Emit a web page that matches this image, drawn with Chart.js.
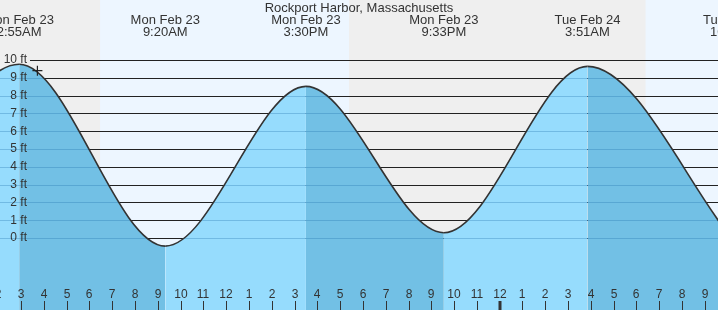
<!DOCTYPE html>
<html>
<head>
<meta charset="utf-8">
<title>Rockport Harbor tides</title>
<script src="https://cdn.jsdelivr.net/npm/chart.js@4.4.0/dist/chart.umd.min.js"></script>
<style>
  html, body { margin: 0; padding: 0; background: #fff; }
  canvas { display: block; }
</style>
</head>
<body>
<canvas id="tideChart" width="718" height="310"></canvas>
<script>
// times are hours counted from Mon Feb 23 00:00
var tideHours = [-3.3, 2.92, 9.33, 15.5, 21.55, 27.85, 34.37];
var tideFeet = [-0.3, 9.76, -0.45, 8.52, 0.3, 9.64, -0.35];
var tideDays = ['Sun Feb 22', 'Mon Feb 23', 'Mon Feb 23', 'Mon Feb 23', 'Mon Feb 23', 'Tue Feb 24', 'Tue Feb 24'];
var tideTimes = ['8:42PM', '2:55AM', '9:20AM', '3:30PM', '9:33PM', '3:51AM', '10:22AM'];

// daylight (sunrise -> sunset)
var dayStart = [6.47, 30.4];
var dayEnd = [17.39, 41.4];

var tickHours = [2, 3, 4, 5, 6, 7, 8, 9, 10, 11, 12, 13, 14, 15, 16, 17, 18, 19, 20, 21, 22, 23, 24, 25, 26, 27, 28, 29, 30, 31, 32, 33];
var tickLabels = ['2', '3', '4', '5', '6', '7', '8', '9', '10', '11', '12', '1', '2', '3', '4', '5', '6', '7', '8', '9', '10', '11', '12', '1', '2', '3', '4', '5', '6', '7', '8', '9'];
var midnight = 24;

var gridFeet = [0, 1, 2, 3, 4, 5, 6, 7, 8, 9, 10];
var gridLabels = ['0 ft', '1 ft', '2 ft', '3 ft', '4 ft', '5 ft', '6 ft', '7 ft', '8 ft', '9 ft', '10 ft'];

var nowPoint = [{x: 3.72, y: 9.4}];

var title = 'Rockport Harbor, Massachusetts';

var nightColor = '#efefef';
var dayColor = '#edf6ff';
var risingColor = 'rgb(150, 220, 253)';
var fallingColor = 'rgb(114, 192, 229)';
var textColor = '#333';
var font = "'Liberation Sans', Arial, sans-serif";

var tidePlugin = {
    id: 'tide',
    beforeDraw: function (chart) {
        var ctx = chart.ctx, x = chart.scales.x, a = chart.chartArea;
        ctx.save();
        ctx.fillStyle = nightColor;
        ctx.fillRect(a.left, a.top, a.width, a.height);
        ctx.fillStyle = dayColor;
        for (var i = 0; i < dayStart.length; i++) {
            var x0 = x.getPixelForValue(dayStart[i]);
            var x1 = x.getPixelForValue(dayEnd[i]);
            ctx.fillRect(x0, a.top, x1 - x0, a.height);
        }
        ctx.restore();
    },
    beforeDatasetsDraw: function (chart) {
        // black lines above the water
        var ctx = chart.ctx, y = chart.scales.y, a = chart.chartArea;
        ctx.save();
        ctx.strokeStyle = '#222';
        ctx.lineWidth = 1;
        ctx.beginPath();
        gridFeet.forEach(function (f) {
            var py = Math.round(y.getPixelForValue(f)) + 0.5;
            ctx.moveTo(a.left + 30, py);
            ctx.lineTo(a.right, py);
        });
        ctx.stroke();
        ctx.restore();
    },
    beforeDatasetDraw: function (chart, args) {
        // faint lines inside the water, after the fill and before the curve
        if (args.index !== 0) return;
        var ctx = chart.ctx, y = chart.scales.y, a = chart.chartArea;
        var pts = chart.getDatasetMeta(0).data;
        ctx.save();
        ctx.beginPath();
        ctx.moveTo(pts[0].x, pts[0].y);
        for (var i = 1; i < pts.length; i++) {
            ctx.bezierCurveTo(pts[i - 1].cp2x, pts[i - 1].cp2y, pts[i].cp1x, pts[i].cp1y, pts[i].x, pts[i].y);
        }
        ctx.lineTo(pts[pts.length - 1].x, a.bottom);
        ctx.lineTo(pts[0].x, a.bottom);
        ctx.closePath();
        ctx.clip();
        ctx.strokeStyle = 'rgba(30, 110, 170, 0.3)';
        ctx.lineWidth = 1;
        ctx.beginPath();
        gridFeet.forEach(function (f) {
            var py = Math.round(y.getPixelForValue(f)) + 0.5;
            ctx.moveTo(a.left, py);
            ctx.lineTo(a.right, py);
        });
        ctx.stroke();
        ctx.restore();
    },
    afterDraw: function (chart) {
        var ctx = chart.ctx, x = chart.scales.x, y = chart.scales.y, a = chart.chartArea;
        ctx.save();
        ctx.fillStyle = textColor;

        // title and high / low labels
        ctx.font = '13px ' + font;
        ctx.textAlign = 'center';
        ctx.textBaseline = 'middle';
        ctx.fillText(title, (a.left + a.right) / 2, 8);
        for (var i = 0; i < tideHours.length; i++) {
            var px = x.getPixelForValue(tideHours[i]);
            ctx.fillText(tideDays[i], px, 20);
            ctx.fillText(tideTimes[i], px, 32);
        }

        // feet labels
        ctx.font = '12px ' + font;
        ctx.textAlign = 'right';
        gridFeet.forEach(function (f, j) {
            ctx.fillText(gridLabels[j], a.left + 27, y.getPixelForValue(f));
        });

        // hour ticks
        ctx.textAlign = 'center';
        ctx.strokeStyle = textColor;
        tickHours.forEach(function (h, j) {
            var px = Math.round(x.getPixelForValue(h));
            ctx.fillText(tickLabels[j], px, 295);
            ctx.lineWidth = h === midnight ? 3 : 1;
            ctx.beginPath();
            ctx.moveTo(px + (h === midnight ? 0 : 0.5), a.bottom - 9);
            ctx.lineTo(px + (h === midnight ? 0 : 0.5), a.bottom);
            ctx.stroke();
        });
        ctx.restore();
    }
};

var tideData = tideHours.map(function (h, i) {
    return {x: h, y: tideFeet[i]};
});

var ctx = document.getElementById('tideChart').getContext('2d');
var chart = new Chart(ctx, {
    type: 'line',
    data: {
        datasets: [{
            data: tideData,
            borderColor: '#333',
            borderWidth: 1.6,
            backgroundColor: risingColor,
            fill: 'start',
            pointRadius: 0,
            cubicInterpolationMode: 'monotone',
            capBezierPoints: false,
            segment: {
                backgroundColor: function (c) {
                    return c.p1.parsed.y < c.p0.parsed.y ? fallingColor : risingColor;
                }
            }
        }, {
            data: nowPoint,
            order: -1,
            showLine: false,
            pointStyle: 'cross',
            pointRadius: 5,
            borderColor: '#222',
            borderWidth: 1.2
        }]
    },
    options: {
        responsive: false,
        devicePixelRatio: 1,
        animation: false,
        events: [],
        layout: {padding: 0, autoPadding: false},
        scales: {
            x: {type: 'linear', min: 2.079, max: 33.577, display: false},
            y: {type: 'linear', min: -4.04, max: 13.37, display: false}
        },
        plugins: {
            legend: {display: false},
            tooltip: {enabled: false}
        }
    },
    plugins: [tidePlugin]
});
</script>
</body>
</html>
